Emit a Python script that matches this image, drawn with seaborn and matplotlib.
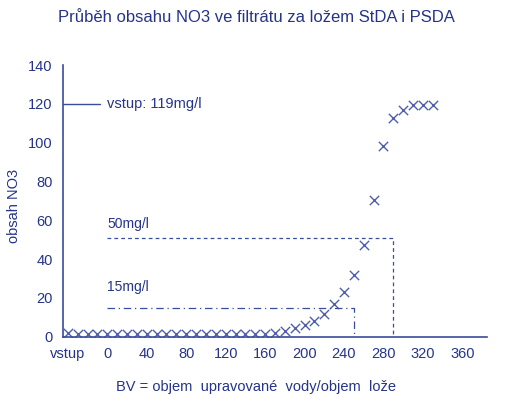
import numpy as np
import pandas as pd
import matplotlib
matplotlib.use("Agg")
import matplotlib.pyplot as plt
import seaborn as sns

# BV values (vstup = -40) and NO3 in filtrate [mg/l]
bv = [-40, -30, -20, -10, 0, 10, 20, 30, 40, 50, 60, 70, 80, 90, 100, 110, 120,
      130, 140, 150, 160, 170, 180, 190, 200, 210, 220, 230, 240, 250, 260, 270,
      280, 290, 300, 310, 320, 330]
no3 = [2, 1.6, 1.6, 1.6, 1.6, 1.6, 1.6, 1.6, 1.6, 1.6, 1.6, 1.6, 1.6, 1.6, 1.6,
       1.6, 1.6, 1.6, 1.6, 1.6, 1.6, 1.8, 3, 4.3, 6, 8.3, 11.7, 17, 23, 31.7,
       47.2, 70.5, 98.2, 112.5, 117, 119.4, 119.4, 119.4]

limit15_bv = 250
limit50_bv = 290
inlet = 119

xticks = list(range(-40, 381, 10))
xlabels = ["vstup" if t == -40 else (str(t) if t % 40 == 0 and t >= 0 else "") for t in xticks]

df = pd.DataFrame({"BV": bv, "NO3": no3})

sns.set_style("white")
plt.rcParams["font.family"] = ["Liberation Sans", "DejaVu Sans"]

navy = "#25348a"
line_c = "#3a4c9c"
mark_c = "#4f5fae"

fig = plt.figure(figsize=(5.12, 3.97), dpi=100)
ax = fig.add_axes([0.123, 0.152, 0.828, 0.684])

sns.scatterplot(data=df, x="BV", y="NO3", marker="x", s=45, color=mark_c,
                linewidth=1.0, ax=ax, legend=False)

# limit lines
ax.plot([0, limit15_bv, limit15_bv], [15, 15, 0], color=line_c, lw=0.9,
        linestyle=(0, (6, 3, 1, 3)))
ax.plot([0, limit50_bv, limit50_bv], [51, 51, 0], color=line_c, lw=0.9,
        linestyle=(0, (3, 2.5)))
ax.plot([-45, -7], [120, 120], color=line_c, lw=1.0)

ax.text(0, 120, "vstup: 119mg/l", color=navy, fontsize=10.5, va="center")
ax.text(0, 58, "50mg/l", color=navy, fontsize=10, va="center")
ax.text(0, 25.5, "15mg/l", color=navy, fontsize=10, va="center")

ax.set_xlim(-45, 385)
ax.set_ylim(0, 140)
ax.set_xticks(xticks)
ax.set_xticklabels(xlabels)
ax.set_yticks(range(0, 141, 20))

for s in ["top", "right"]:
    ax.spines[s].set_visible(False)
for s in ["left", "bottom"]:
    ax.spines[s].set_color(line_c)
    ax.spines[s].set_linewidth(1.2)
ax.tick_params(axis="both", colors=line_c, labelcolor=navy, labelsize=10.5,
               direction="out", length=4, width=1)

ax.set_xlabel("BV = objem  upravované  vody/objem  lože", color=navy,
              fontsize=10.5, va="center")
ax.xaxis.set_label_coords(0.455, -0.185)
ax.set_ylabel("obsah NO3", color=navy, fontsize=10.5, va="center")
ax.yaxis.set_label_coords(-0.116, 0.48)
fig.suptitle("Průběh obsahu NO3 ve filtrátu za ložem StDA i PSDA", color=navy,
             fontsize=12, y=0.975)

fig.savefig("out.png", dpi=100)
